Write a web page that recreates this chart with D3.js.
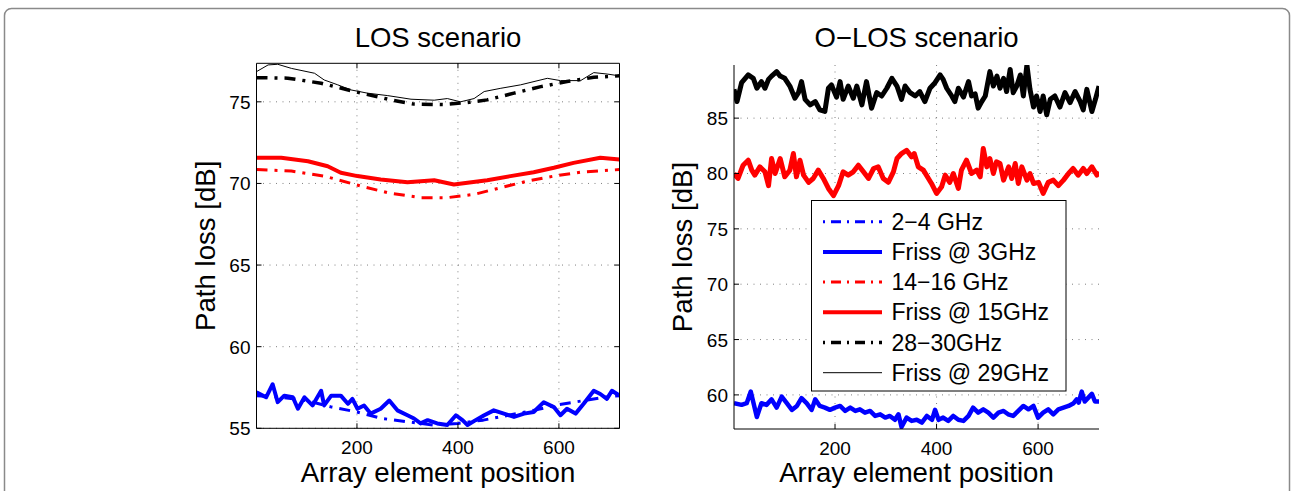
<!DOCTYPE html>
<html>
<head>
<meta charset="utf-8">
<script src="https://cdn.jsdelivr.net/npm/d3@7.9.0/dist/d3.min.js"></script>
<style>
  body { margin: 0; background: #fff; }
  svg { display: block; font-family: "Liberation Sans", Arial, sans-serif; }
</style>
</head>
<body>
<svg id="chart" width="1291" height="491"></svg>
<script>
// ---- LOS scenario (x = array element position, y = path loss dB) ----
const los_2_4 = [[1,57.0],[50,56.9],[100,56.7],[150,56.3],[200,56.0],[250,55.6],[300,55.4],[350,55.2],
  [400,55.3],[450,55.5],[500,55.8],[550,56.1],[600,56.45],[650,56.7],[700,56.95],[720,57.0]];
const los_friss3 = [[1,57.2],[20,56.9],[33,57.7],[43,56.6],[56,57.0],[73,56.9],[83,56.2],[96,56.9],
  [112,56.4],[129,57.3],[135,56.4],[149,57.0],[168,57.0],[182,56.5],[191,56.8],[201,56.2],[214,56.4],
  [227,55.9],[247,56.2],[264,56.7],[280,56.1],[300,55.8],[313,55.6],[326,55.3],[340,55.5],[359,55.3],
  [379,55.2],[396,55.8],[409,55.5],[419,55.2],[435,55.5],[452,55.8],[471,56.1],[491,55.9],[511,55.7],
  [531,55.9],[550,56.0],[570,56.6],[590,56.3],[603,55.8],[616,56.2],[633,55.9],[649,56.5],[669,57.3],
  [682,57.1],[695,56.8],[705,57.3],[720,57.0]];
const los_14_16 = [[1,70.85],[70,70.76],[135,70.45],[208,69.84],[261,69.43],[326,69.13],[379,69.13],
  [432,69.33],[485,69.74],[537,70.14],[590,70.45],[643,70.69],[720,70.85]];
const los_friss15 = [[1,71.57],[50,71.57],[103,71.36],[142,71.05],[168,70.65],[201,70.45],[247,70.24],
  [300,70.08],[353,70.2],[392,69.94],[419,70.04],[458,70.2],[504,70.45],[550,70.69],[590,70.96],
  [629,71.26],[682,71.57],[720,71.46]];
const los_28_30 = [[1,76.48],[63,76.45],[129,76.14],[195,75.63],[267,75.12],[313,74.86],[372,74.83],
  [419,74.96],[458,75.12],[511,75.53],[564,75.93],[616,76.24],[669,76.5],[720,76.59]];
const los_friss29 = [[1,76.85],[24,77.26],[43,77.3],[70,77.05],[116,76.75],[135,76.34],[162,76.04],
  [188,75.73],[221,75.53],[261,75.38],[307,75.16],[353,75.1],[379,75.2],[405,75.0],[432,75.2],
  [452,75.63],[485,75.83],[524,76.04],[577,76.44],[603,76.3],[643,76.3],[669,76.79],[696,76.7],[720,76.59]];

// ---- O-LOS scenario ----
const olos_3 = [[1,59.25],[16,59.1],[26,59.25],[34,60.3],[46,58.0],[55,59.25],[65,59.1],[75,59.6],
  [85,58.85],[95,59.85],[105,59.25],[115,58.65],[125,59.0],[134,59.7],[144,59.25],[154,58.65],
  [161,59.6],[170,59.0],[180,58.85],[190,58.65],[200,58.85],[210,59.0],[220,58.55],[230,58.85],
  [240,58.55],[249,58.7],[259,58.4],[269,58.55],[279,58.1],[289,58.25],[299,57.95],[308,58.1],
  [318,57.75],[325,58.25],[331,57.1],[341,57.95],[351,57.65],[361,57.75],[371,57.5],[381,58.1],
  [391,57.75],[397,58.65],[404,57.75],[413,57.95],[423,57.65],[433,58.1],[443,57.75],[453,57.65],
  [463,58.1],[472,58.85],[482,58.4],[492,58.7],[502,58.4],[512,57.95],[522,58.4],[532,58.55],
  [541,58.25],[551,58.1],[561,58.55],[571,59.0],[581,58.7],[591,59.0],[600,57.95],[610,58.4],
  [620,58.7],[630,58.25],[640,58.7],[650,58.85],[660,59.0],[670,59.25],[676,59.6],[680,59.3],
  [686,60.3],[692,59.4],[700,59.8],[706,60.1],[712,59.4],[720,59.4]];
const olos_15 = [[1,80.0],[9,79.55],[19,80.75],[29,81.2],[36,80.3],[42,79.85],[52,80.6],[62,80.15],
  [69,78.9],[75,81.35],[82,80.0],[92,81.35],[101,79.7],[111,80.3],[118,81.8],[124,79.7],[131,81.2],
  [138,79.85],[148,79.2],[157,79.55],[167,80.3],[177,79.55],[187,78.65],[197,78.0],[207,78.9],
  [216,80.15],[226,79.85],[236,80.15],[246,80.75],[256,80.15],[266,79.55],[276,80.45],[285,80.6],
  [295,79.55],[305,79.2],[315,80.15],[322,81.35],[331,81.8],[341,82.1],[351,81.5],[356,81.8],
  [364,80.6],[374,80.3],[384,79.55],[390,79.1],[400,78.2],[410,78.8],[417,79.85],[426,79.2],
  [433,80.0],[443,78.65],[449,80.3],[459,81.2],[469,80.0],[479,80.3],[486,79.7],[492,82.25],
  [499,80.6],[505,81.35],[512,80.0],[518,81.05],[525,80.9],[532,79.4],[542,80.6],[548,79.55],
  [555,80.9],[561,79.1],[568,80.6],[578,79.4],[584,80.0],[591,79.1],[601,79.2],[610,78.2],
  [620,79.2],[630,79.4],[640,78.9],[650,79.4],[660,80.0],[669,80.45],[679,79.85],[689,80.45],
  [696,80.0],[706,80.6],[716,79.85],[720,80.15]];
const olos_29 = [[1,87.6],[7,86.5],[16,88.2],[29,88.9],[39,88.6],[46,87.7],[55,88.3],[62,87.7],
  [69,88.5],[75,88.8],[85,89.2],[92,88.8],[101,88.6],[111,87.9],[121,86.8],[128,87.3],[134,88.3],
  [141,86.7],[151,86.2],[161,86.5],[170,85.75],[180,85.6],[187,87.7],[193,88.0],[203,86.9],
  [210,88.3],[216,86.7],[226,87.9],[236,86.8],[243,87.9],[253,86.2],[262,88.3],[272,85.9],
  [282,87.3],[292,87.0],[302,87.7],[312,88.6],[322,87.9],[331,86.7],[338,87.9],[348,87.3],
  [358,87.0],[367,87.4],[377,86.5],[387,87.7],[397,88.2],[407,88.9],[413,88.5],[420,87.7],
  [430,87.0],[436,86.5],[443,87.7],[453,86.9],[463,88.3],[469,87.0],[476,87.2],[482,85.9],
  [489,86.5],[496,87.0],[505,89.2],[512,87.9],[519,88.8],[525,87.7],[532,88.6],[538,87.4],
  [545,89.4],[551,87.3],[558,87.9],[565,88.9],[571,87.0],[578,89.8],[584,87.6],[591,86.0],
  [597,87.0],[604,85.6],[610,87.0],[617,85.3],[624,86.7],[633,87.0],[643,86.0],[653,87.3],
  [663,86.4],[673,87.4],[683,86.5],[689,85.75],[696,87.6],[706,85.6],[713,86.7],[720,87.9]];

const xTicks = [200, 400, 600];
const losYTicks = [55, 60, 65, 70, 75];
const olosYTicks = [60, 65, 70, 75, 80, 85];
const legendLabels = ["2\u22124 GHz", "Friss @ 3GHz", "14\u221216 GHz", "Friss @ 15GHz", "28\u221230GHz", "Friss @ 29GHz"];

const svg = d3.select("#chart");

// outer frame
svg.append("rect")
  .attr("x", 4.5).attr("y", 8.5)
  .attr("width", 1285).attr("height", 520)
  .attr("rx", 7)
  .attr("fill", "none")
  .attr("stroke", "#8a8a8a")
  .attr("stroke-width", 1.5);

const dashDot = "11,7,3,7";
const styles = {
  blueDD:  { color: "#0000ff", width: 3, dash: dashDot },
  blue:    { color: "#0000ff", width: 4, dash: null },
  redDD:   { color: "#ff0000", width: 3, dash: dashDot },
  red:     { color: "#ff0000", width: 4, dash: null },
  blackDD: { color: "#000000", width: 3.5, dash: dashDot },
  black:   { color: "#000000", width: 1, dash: null }
};

function drawPanel(opts) {
  const x = d3.scaleLinear().domain([1, 720]).range([opts.left, opts.right]);
  const y = d3.scaleLinear().domain(opts.yDomain).range([opts.bottom, opts.top]);
  const g = svg.append("g");

  const clipId = "clip-" + opts.id;
  g.append("clipPath").attr("id", clipId)
    .append("rect")
    .attr("x", opts.left).attr("y", opts.top)
    .attr("width", opts.right - opts.left).attr("height", opts.bottom - opts.top);

  // dotted grid
  const grid = g.append("g")
    .attr("stroke", "#808080")
    .attr("stroke-width", 1)
    .attr("stroke-dasharray", "1,5.5");
  xTicks.forEach(t => {
    grid.append("line")
      .attr("x1", x(t)).attr("x2", x(t))
      .attr("y1", opts.top).attr("y2", opts.bottom);
  });
  opts.yTicks.forEach(t => {
    grid.append("line")
      .attr("x1", opts.left).attr("x2", opts.right)
      .attr("y1", y(t)).attr("y2", y(t));
  });

  // lines
  const line = d3.line().x(d => x(d[0])).y(d => y(d[1]));
  const lines = g.append("g").attr("clip-path", `url(#${clipId})`);
  opts.series.forEach(s => {
    const st = styles[s.style];
    lines.append("path")
      .datum(s.data)
      .attr("d", line)
      .attr("fill", "none")
      .attr("stroke", st.color)
      .attr("stroke-width", s.width || st.width)
      .attr("stroke-linejoin", "round")
      .attr("stroke-dasharray", st.dash);
  });

  // axes (inward ticks)
  const tickLen = 5;
  const ax = g.append("g").attr("stroke", "#000").attr("stroke-width", 1);
  ax.append("line").attr("x1", opts.left).attr("x2", opts.left)
    .attr("y1", opts.top).attr("y2", opts.bottom);
  ax.append("line").attr("x1", opts.left).attr("x2", opts.right)
    .attr("y1", opts.bottom).attr("y2", opts.bottom);
  if (opts.box) {
    ax.append("line").attr("x1", opts.right).attr("x2", opts.right)
      .attr("y1", opts.top).attr("y2", opts.bottom);
    ax.append("line").attr("x1", opts.left).attr("x2", opts.right)
      .attr("y1", opts.top).attr("y2", opts.top);
  }
  xTicks.forEach(t => {
    ax.append("line").attr("x1", x(t)).attr("x2", x(t))
      .attr("y1", opts.bottom).attr("y2", opts.bottom - tickLen);
    if (opts.box) ax.append("line").attr("x1", x(t)).attr("x2", x(t))
      .attr("y1", opts.top).attr("y2", opts.top + tickLen);
  });
  opts.yTicks.forEach(t => {
    ax.append("line").attr("x1", opts.left).attr("x2", opts.left + tickLen)
      .attr("y1", y(t)).attr("y2", y(t));
    if (opts.box) ax.append("line").attr("x1", opts.right).attr("x2", opts.right - tickLen)
      .attr("y1", y(t)).attr("y2", y(t));
  });

  // tick labels
  g.selectAll(".xt").data(xTicks).enter().append("text")
    .attr("x", d => x(d)).attr("y", opts.bottom + 26)
    .attr("text-anchor", "middle")
    .style("font-size", "19px")
    .text(d => d);
  g.selectAll(".yt").data(opts.yTicks).enter().append("text")
    .attr("x", opts.left - 6).attr("y", d => y(d) + 7)
    .attr("text-anchor", "end")
    .style("font-size", "19px")
    .text(d => d);

  // title and axis labels
  g.append("text")
    .attr("x", (opts.left + opts.right) / 2).attr("y", 47)
    .attr("text-anchor", "middle")
    .style("font-size", "27.5px")
    .text(opts.title);
  g.append("text")
    .attr("x", (opts.left + opts.right) / 2).attr("y", 482)
    .attr("text-anchor", "middle")
    .style("font-size", "27.6px")
    .text("Array element position");
  g.append("text")
    .attr("transform", `translate(${opts.left - 42},${(opts.top + opts.bottom) / 2}) rotate(-90)`)
    .attr("text-anchor", "middle")
    .style("font-size", "27.6px")
    .text("Path loss [dB]");

  return { x, y, g };
}

drawPanel({
  id: "los", title: "LOS scenario", box: true,
  left: 256.5, right: 619.5, top: 63.3, bottom: 428.3,
  yDomain: [55, 77.36], yTicks: losYTicks,
  series: [
    { data: los_2_4, style: "blueDD" },
    { data: los_friss3, style: "blue" },
    { data: los_14_16, style: "redDD" },
    { data: los_friss15, style: "red" },
    { data: los_28_30, style: "blackDD" },
    { data: los_friss29, style: "black" }
  ]
});

drawPanel({
  id: "olos", title: "O\u2212LOS scenario", box: false,
  left: 734, right: 1099, top: 65, bottom: 429,
  yDomain: [56.92, 89.8], yTicks: olosYTicks,
  series: [
    { data: olos_3, style: "blue", width: 4.5 },
    { data: olos_15, style: "red", width: 5 },
    { data: olos_29, style: "black", width: 5 }
  ]
});

// legend
const lg = svg.append("g");
const lgX = 811.5, lgY = 200.5, lgW = 254.5, lgH = 190.5;
lg.append("rect")
  .attr("x", lgX).attr("y", lgY).attr("width", lgW).attr("height", lgH)
  .attr("fill", "#fff").attr("stroke", "#000").attr("stroke-width", 1);
const legendStyles = ["blueDD", "blue", "redDD", "red", "blackDD", "black"];
legendLabels.forEach((lab, i) => {
  const st = styles[legendStyles[i]];
  const cy = 221.7 + i * 30.2;
  lg.append("line")
    .attr("x1", 823).attr("x2", 882)
    .attr("y1", cy).attr("y2", cy)
    .attr("stroke", st.color)
    .attr("stroke-width", st.width)
    .attr("stroke-dasharray", st.dash ? "2,6,10,6" : null);
  lg.append("text")
    .attr("x", 891.5).attr("y", cy + 8)
    .style("font-size", "23px")
    .text(lab);
});
</script>
</body>
</html>
